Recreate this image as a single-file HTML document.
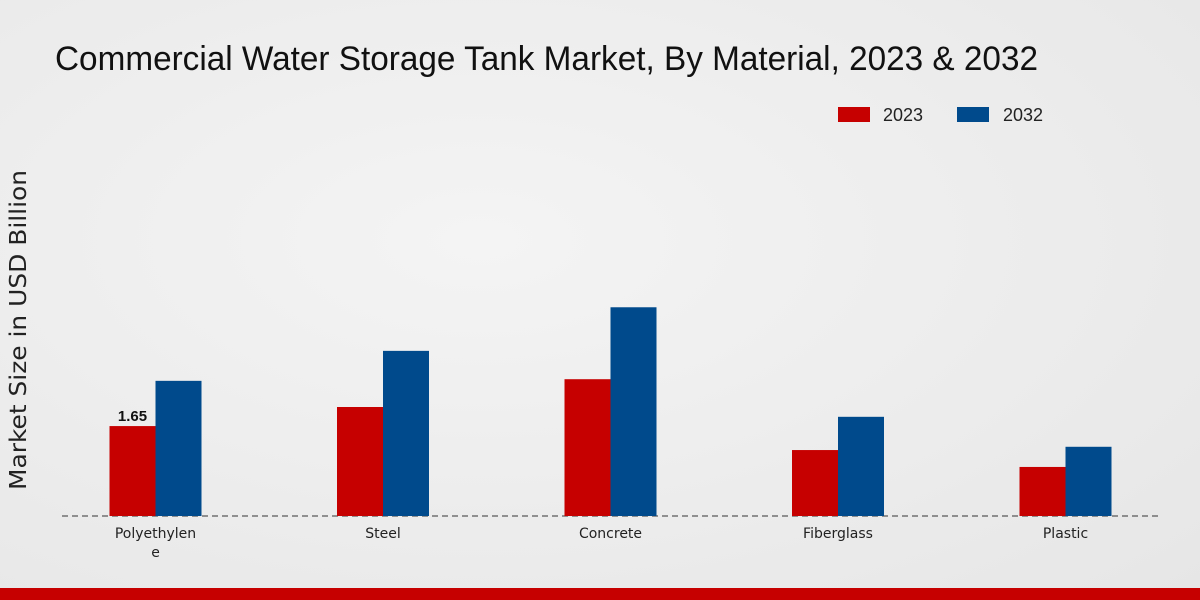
<!DOCTYPE html>
<html><head><meta charset="utf-8"><style>
html,body{margin:0;padding:0;width:1200px;height:600px;overflow:hidden}
body{background:radial-gradient(ellipse at 40% 40%,#f4f4f4 0%,#e6e6e6 100%);font-family:"Liberation Sans",sans-serif}
</style></head><body>
<svg id="chart" width="1200" height="600" xmlns="http://www.w3.org/2000/svg">
<text x="55" y="70" font-size="34" fill="#111" textLength="983" lengthAdjust="spacingAndGlyphs">Commercial Water Storage Tank Market, By Material, 2023 &amp; 2032</text>
<g>
<rect x="838" y="107" width="32" height="15" fill="#c60000"/>
<text x="883" y="121" font-size="18" fill="#222">2023</text>
<rect x="957" y="107" width="32" height="15" fill="#004a8c"/>
<text x="1003" y="121" font-size="18" fill="#222">2032</text>
</g>
<text transform="translate(26,330) rotate(-90)" text-anchor="middle" font-size="23" fill="#222" textLength="320" lengthAdjust="spacingAndGlyphs" font-family="DejaVu Sans, sans-serif">Market Size in USD Billion</text>
<line x1="62" y1="516" x2="1160" y2="516" stroke="#333" stroke-dasharray="6,4"/>
<g id="bars"></g>
<rect x="0" y="588" width="1200" height="12" fill="#c60000"/>
</svg>
<script>
const categories=["Polyethylene","Steel","Concrete","Fiberglass","Plastic"];
const labelLines=[["Polyethylen","e"],["Steel"],["Concrete"],["Fiberglass"],["Plastic"]];
const values2023=[1.65,2.0,2.51,1.21,0.9];
const values2032=[2.48,3.03,3.83,1.82,1.27];
const ns="http://www.w3.org/2000/svg";
const g=document.getElementById("bars");
const baseY=516, pxPerUnit=54.5, bw=46;
const xC=i=>155.5+i*227.5;
const yS=v=>baseY-v*pxPerUnit;
function mk(t,a){const e=document.createElementNS(ns,t);for(const k in a)e.setAttribute(k,a[k]);g.appendChild(e);return e;}
categories.forEach((c,i)=>{
  const r1=mk("rect",{x:xC(i)-bw,y:yS(values2023[i]),width:bw,height:baseY-yS(values2023[i]),fill:"#c60000"});
  
  
  const r2=mk("rect",{x:xC(i),y:yS(values2032[i]),width:bw,height:baseY-yS(values2032[i]),fill:"#004a8c"});
  
  
  labelLines[i].forEach((ln,j)=>{
    const t=mk("text",{x:xC(i),y:538+j*19,"text-anchor":"middle","font-size":"14",fill:"#222","font-family":"DejaVu Sans, sans-serif"});
    t.textContent=ln;
    
    
  });
});
const vl=mk("text",{x:xC(0)-bw/2,y:yS(values2023[0])-5,"text-anchor":"middle","font-size":"15","font-weight":"bold",fill:"#111"});
vl.textContent=values2023[0].toFixed(2);


</script>
</body></html>
